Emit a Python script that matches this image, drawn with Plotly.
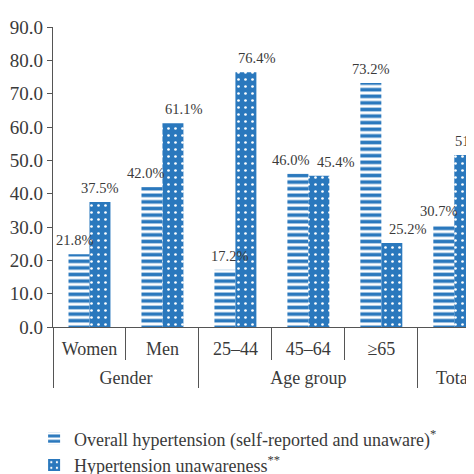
import plotly.graph_objects as go

groups = ["Gender", "Gender", "Age group", "Age group", "Age group", "Total"]
subgroups = ["Women", "Men", "25–44", "45–64", "≥65", " "]
overall = [21.8, 42.0, 17.2, 46.0, 73.2, 30.7]
unaware = [37.5, 61.1, 76.4, 45.4, 25.2, 51.6]
y_ticks = [0, 10, 20, 30, 40, 50, 60, 70, 80, 90]

# horizontal nudges (px) of the value labels, as placed in the original figure
overall_lbl_dx = [-4, -6, 5, -7, 0, -5]
unaware_lbl_dx = [0, 11, 11, 17, 16, 9]

BLUE = "#2a78bd"
TXT = "#3a3a3a"
FONT = "Liberation Serif"
BARGAP = 0.425

# labels styled for the two-level category axis
outer_lbl = [f"<span style='font-size:18px'>{g}</span>" for g in groups]
inner_lbl = [f"<span style='font-size:18px'>{s}</span><br><span style='font-size:1px;color:white'>.</span>"
             for s in subgroups]

fig = go.Figure()
fig.add_trace(go.Bar(
    x=[outer_lbl, inner_lbl], y=overall,
    name="Overall hypertension (self-reported and unaware)<sup>*</sup>",
    marker=dict(color=BLUE, line=dict(width=0),
                pattern=dict(shape="-", fgcolor=BLUE, bgcolor="white",
                             size=6.6, solidity=0.55, fillmode="replace")),
    hoverinfo="y",
))
fig.add_trace(go.Bar(
    x=[outer_lbl, inner_lbl], y=unaware,
    name="Hypertension unawareness<sup>**</sup>",
    marker=dict(color=BLUE, line=dict(width=0),
                pattern=dict(shape=".", fgcolor="white", bgcolor=BLUE,
                             size=7, solidity=0.12, fillmode="replace")),
    hoverinfo="y",
))

# value labels, placed at each bar's centre on the category axis
half = (1 - BARGAP) / 4
for series, sign, dxs in ((overall, -1, overall_lbl_dx), (unaware, 1, unaware_lbl_dx)):
    for i, (v, dx) in enumerate(zip(series, dxs)):
        fig.add_annotation(
            x=i + sign * half, y=v, xref="x", yref="y",
            text=f"{v:.1f}%", showarrow=False,
            xanchor="center", yanchor="bottom", xshift=dx, yshift=4,
            font=dict(family=FONT, size=14.5, color=TXT),
        )

# page body has an 8px margin, so the figure is 466px and offsets are reduced by 8
fig.update_layout(
    width=466, height=466,
    margin=dict(l=45, r=0, t=19, b=147, autoexpand=False),
    paper_bgcolor="white", plot_bgcolor="white",
    barmode="group", bargap=BARGAP, bargroupgap=0,
    font=dict(family=FONT, size=18, color=TXT),
    showlegend=True,
    legend=dict(orientation="v", xref="container", yref="container",
                x=0.056, xanchor="left", y=0.115, yanchor="top",
                font=dict(family=FONT, size=18, color=TXT),
                itemwidth=30, tracegroupgap=0, bgcolor="rgba(0,0,0,0)"),
    xaxis=dict(type="multicategory", range=[-0.5, 5.27], automargin=False,
               showline=True, linecolor="#555", linewidth=1.2,
               ticks="outside", ticklen=32, tickcolor="#555", tickwidth=1.2,
               showdividers=True, dividercolor="#555", dividerwidth=1.2,
               tickfont=dict(family=FONT, size=15, color=TXT),
               ticklabelstandoff=9,
               showgrid=False, zeroline=False),
    yaxis=dict(range=[0, 90], tickvals=y_ticks, tickformat=".1f", automargin=False,
               showline=True, linecolor="#555", linewidth=1.2,
               ticks="outside", ticklen=5, tickcolor="#555",
               tickfont=dict(family=FONT, size=19, color=TXT),
               showgrid=False, zeroline=False),
)

fig.write_html("out.html")
